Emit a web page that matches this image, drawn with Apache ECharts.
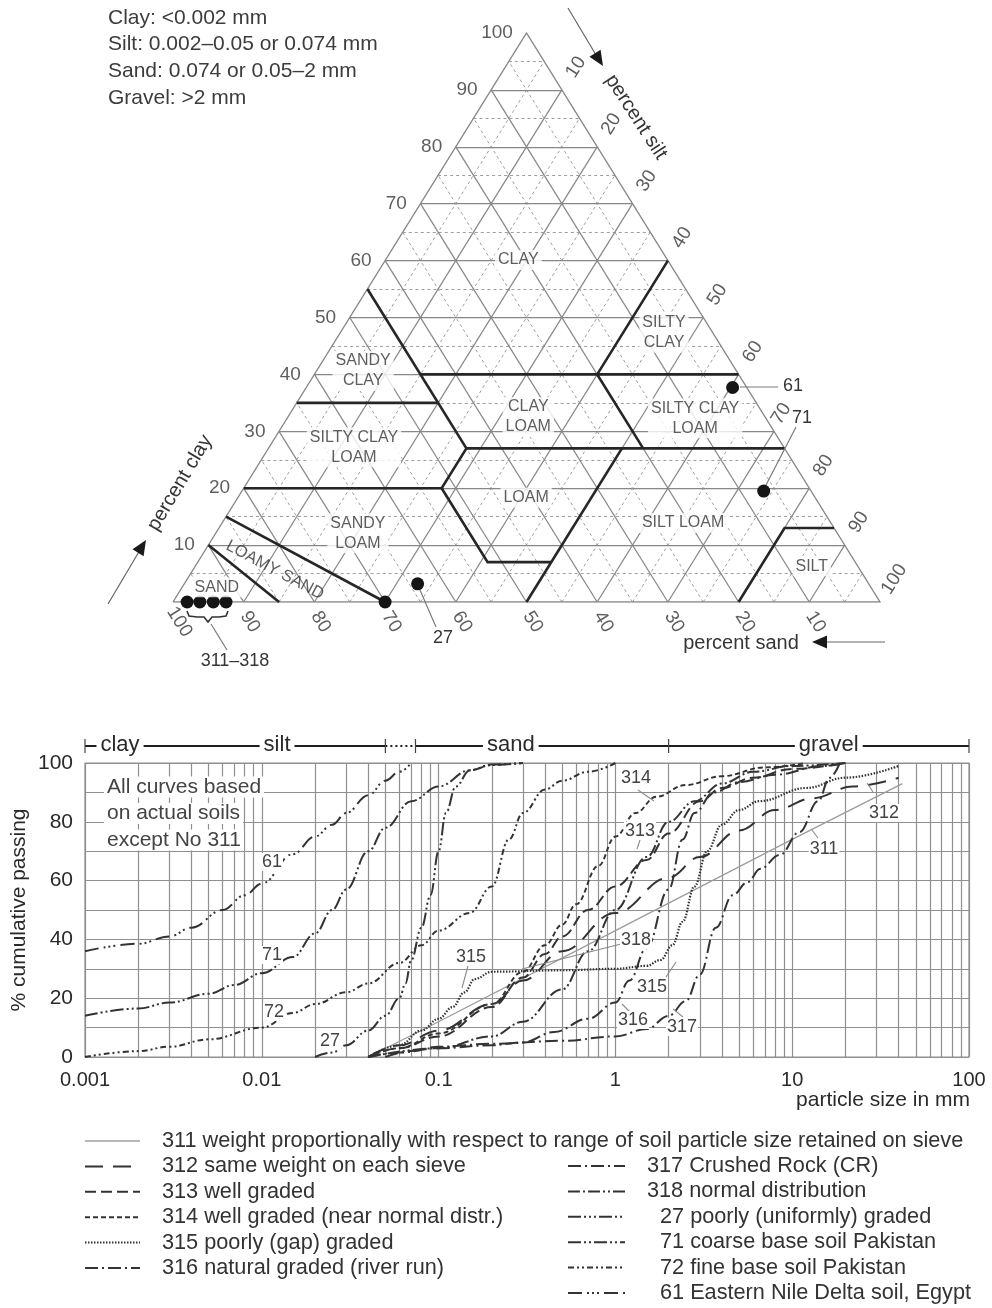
<!DOCTYPE html>
<html><head><meta charset="utf-8">
<script src="https://cdn.jsdelivr.net/npm/echarts@6/dist/echarts.min.js"></script>
<style>html,body{margin:0;padding:0;background:#fff}#c{width:992px;height:1308px}</style>
</head><body><div id="c"></div>
<script>
// ================= DATA =================
const headerLines = ['Clay: <0.002 mm', 'Silt: 0.002–0.05 or 0.074 mm', 'Sand: 0.074 or 0.05–2 mm', 'Gravel: >2 mm'];
const ternaryTicks = [10, 20, 30, 40, 50, 60, 70, 80, 90, 100];
// texture-class boundaries, points as [clay %, silt %]
const classBoundaries = [
  [[55, 0], [27, 28]],
  [[40, 15], [40, 60]],
  [[35, 0], [35, 20]],
  [[60, 40], [40, 40], [27, 53]],
  [[27, 28], [27, 73]],
  [[20, 0], [20, 28], [27, 28]],
  [[20, 28], [7, 41], [7, 50]],
  [[27, 50], [0, 50]],
  [[0, 80], [13, 80], [13, 87]],
  [[15, 0], [0, 30]],
  [[10, 0], [0, 15]]
];
const classNames = ['CLAY', 'SILTY\nCLAY', 'SANDY\nCLAY', 'CLAY\nLOAM', 'SILTY CLAY\nLOAM', 'SILTY CLAY\nLOAM', 'LOAM', 'SANDY\nLOAM', 'SILT LOAM', 'LOAMY SAND', 'SAND', 'SILT'];
const classClay = [60.1, 47.3, 40.6, 32.5, 32.3, 27.2, 18.3, 12.1, 13.9, 5.6, 2.6, 6.3];
const classSilt = [18.8, 45.8, 6.6, 34.0, 57.7, 12.0, 40.8, 20.1, 65.2, 11.6, 4.9, 87.2];
// soil samples plotted in the triangle [clay %, silt %]
const sampleNames = ['311', '312', '313', '314', '72', '27', '61', '71'];
const sampleClay = [0, 0, 0, 0, 0, 3.2, 37.7, 19.5];
const sampleSilt = [2, 3.8, 5.7, 7.5, 30, 33, 60.3, 73.8];

// grading curves: [particle size mm, % cumulative passing]
const c311 = [[0.04, 0], [0.1, 12], [1, 43], [10, 74], [42, 93]];
const c312 = [[0.04, 0], [0.06, 4], [0.1, 9], [0.2, 18], [0.3, 26], [0.5, 36], [1, 49], [2, 61], [3, 68], [5, 77], [8, 84], [13, 88], [22, 92], [40, 95]];
const c313 = [[0.04, 0], [0.06, 3], [0.1, 7], [0.2, 17], [0.3, 27], [0.4, 35], [0.5, 41], [0.7, 50], [1, 58], [1.5, 67], [2, 76], [3, 87], [4, 91.5], [6, 95], [10, 98], [20, 100]];
const c314 = [[0.04, 0], [0.06, 3], [0.1, 8], [0.2, 18], [0.3, 29], [0.4, 38], [0.5, 45], [0.6, 52], [0.8, 65], [1, 75], [1.3, 83], [1.7, 88.5], [2.5, 92.5], [4, 95.5], [7, 98.5], [12, 100]];
const c315 = [[0.04, 0], [0.06, 4], [0.08, 9], [0.1, 13], [0.12, 17], [0.14, 22], [0.16, 26.5], [0.2, 29], [0.5, 29.5], [1, 30], [1.5, 31], [1.8, 33], [2.1, 38], [2.4, 46], [2.8, 58], [3.3, 70], [4, 79], [5, 84], [6.5, 87], [12, 91.5], [20, 95], [40, 99]];
const c316 = [[0.04, 0], [0.06, 1.5], [0.1, 3], [0.2, 4], [0.3, 5], [0.45, 8.5], [0.7, 13], [1.0, 18.5], [1.2, 26], [1.5, 37], [2, 57], [2.4, 74], [2.8, 83], [3.6, 90], [5, 93.5], [8, 96], [15, 99], [20, 100]];
const c317 = [[0.05, 0], [0.07, 2], [0.1, 3.5], [0.2, 4.5], [0.5, 5.5], [1, 7], [1.5, 9.5], [2, 14], [2.5, 19], [3, 28], [3.7, 44], [4.6, 55], [5.6, 59.5], [6.6, 64], [8.5, 68.7], [11, 76.5], [14, 87], [16.3, 95], [18.6, 100]];
const c318 = [[0.04, 0], [0.1, 3], [0.2, 7], [0.3, 12], [0.5, 23], [0.7, 36], [1, 50], [1.5, 68], [2, 80], [2.8, 87], [4, 93], [6, 97], [10, 99], [20, 100]];
const c27 = [[0.02, 0], [0.025, 1.5], [0.03, 4], [0.04, 9], [0.05, 14], [0.06, 20], [0.065, 25], [0.07, 33], [0.08, 44], [0.09, 55], [0.1, 70], [0.11, 83], [0.125, 92], [0.15, 97.5], [0.2, 99.5], [0.3, 100]];
const c71 = [[0.001, 14], [0.002, 16.5], [0.003, 18.5], [0.005, 21.5], [0.007, 24.5], [0.01, 28.5], [0.015, 34], [0.02, 42], [0.025, 50], [0.03, 57], [0.04, 70], [0.05, 78], [0.07, 87], [0.1, 92], [0.15, 97.5], [0.2, 99.3], [0.3, 100]];
const c72 = [[0.001, 0], [0.002, 2], [0.003, 3.5], [0.005, 6], [0.01, 10], [0.015, 15], [0.02, 18], [0.03, 22], [0.04, 25], [0.06, 32], [0.08, 38], [0.1, 43], [0.15, 49], [0.2, 58], [0.25, 74], [0.3, 83], [0.4, 91], [0.5, 94], [0.7, 97], [1.0, 100]];
const c61 = [[0.001, 36], [0.002, 38.5], [0.003, 41], [0.004, 44], [0.006, 50], [0.008, 55], [0.01, 59], [0.015, 69], [0.02, 75], [0.025, 79], [0.03, 83], [0.04, 89], [0.05, 94], [0.06, 97], [0.07, 100]];

const curveIds = ['311', '312', '313', '314', '315', '316', '317', '318', '27', '71', '72', '61'];
const curveData = [c311, c312, c313, c314, c315, c316, c317, c318, c27, c71, c72, c61];
const legendTexts = {
  '311': '311 weight proportionally with respect to range of soil particle size retained on sieve',
  '312': '312 same weight on each sieve',
  '313': '313 well graded',
  '314': '314 well graded (near normal distr.)',
  '315': '315 poorly (gap) graded',
  '316': '316 natural graded (river run)',
  '317': '317 Crushed Rock (CR)',
  '318': '318 normal distribution',
  '27': '27 poorly (uniformly) graded',
  '71': '71 coarse base soil Pakistan',
  '72': '72 fine base soil Pakistan',
  '61': '61 Eastern Nile Delta soil, Egypt'
};
const xTickLabels = ['0.001', '0.01', '0.1', '1', '10', '100'];
const bandBounds = [0.001, 0.002, 0.05, 0.074, 2, 100];
const bandNames = ['clay', 'silt', 'sand', 'gravel'];
const bandNamePos = [0.00135, 0.0122, 0.256, 16.1];
const noteLines = ['All curves based', 'on actual soils', 'except No 311'];

// ================= STYLE =================
const FONT = '"Liberation Sans", Arial, Helvetica, sans-serif';
const TXT = '#363636';
const CURVE = '#333333';
const curveStyle = {
  '311': { color: '#9c9c9c', width: 1.3, type: 'solid' },
  '312': { color: CURVE, width: 2, type: [18, 10] },
  '313': { color: CURVE, width: 2, type: [11, 5] },
  '314': { color: CURVE, width: 1.9, type: [5, 3] },
  '315': { color: CURVE, width: 2.2, type: [1.5, 1.5] },
  '316': { color: CURVE, width: 2, type: [13, 4, 2, 4] },
  '317': { color: CURVE, width: 2, type: [13, 4, 2, 4] },
  '318': { color: CURVE, width: 2, type: [12, 3, 2, 3, 12, 3, 2, 3, 2, 3] },
  '27': { color: CURVE, width: 2, type: [13, 3, 2, 3, 2, 3, 2, 3] },
  '71': { color: CURVE, width: 2, type: [13, 3, 2, 3, 2, 3] },
  '72': { color: CURVE, width: 2, type: [6, 3, 2, 3, 2, 3] },
  '61': { color: CURVE, width: 2, type: [14, 5, 2, 3, 2, 3, 2, 5] }
};

// ternary -> cartesian (x = silt + clay/2, y = clay)
const T = (clay, silt) => [silt + clay / 2, clay];

const majorSeg = [], minorSeg = [];
for (let k = 5; k < 100; k += 5) {
  const arr = (k % 10 === 0) ? majorSeg : minorSeg;
  arr.push([T(k, 0), T(k, 100 - k)]);          // clay = k
  arr.push([T(0, k), T(100 - k, k)]);          // silt = k
  arr.push([T(0, 100 - k), T(100 - k, 0)]);    // sand = k
}

const tickItems = [];
ternaryTicks.forEach(k => {
  tickItems.push({ value: T(k, -1), name: String(k), label: { position: 'left', distance: 6 } });
  const sOff = k === 70 ? [-8, -3] : [0, 0];
  tickItems.push({ value: T(100 - k + 4, k), name: String(k), label: { position: 'inside', rotate: 58, offset: sOff } });
  tickItems.push({ value: T(-3.5, 100 - k + 2.65), name: String(k), label: { position: 'inside', rotate: -58 } });
});

const classItems = classNames.map((n, i) => ({
  value: T(classClay[i], classSilt[i]), name: n,
  label: n === 'LOAMY SAND' ? { rotate: -28, backgroundColor: 'transparent', fontSize: 16.5 } : {}
}));

const vgrid = [];
for (let e = -3; e <= 1; e++) for (let m = 1; m <= 9; m++) vgrid.push(+(m * Math.pow(10, e)).toPrecision(3));
vgrid.push(100);

const series = [
  { type: 'lines', coordinateSystem: 'cartesian2d', xAxisIndex: 0, yAxisIndex: 0, silent: true, z: 1,
    lineStyle: { color: '#9e9e9e', width: 1, type: [3, 3], opacity: 1 },
    data: minorSeg.map(s => ({ coords: s })) },
  { type: 'lines', coordinateSystem: 'cartesian2d', xAxisIndex: 0, yAxisIndex: 0, silent: true, z: 2,
    lineStyle: { color: '#878787', width: 1.25, opacity: 1 },
    data: majorSeg.map(s => ({ coords: s })) },
  { type: 'lines', coordinateSystem: 'cartesian2d', xAxisIndex: 0, yAxisIndex: 0, silent: true, z: 2, polyline: true,
    lineStyle: { color: '#878787', width: 1.4, opacity: 1 },
    data: [{ coords: [T(0, 0), T(0, 100), T(100, 0), T(0, 0)] }] },
  { type: 'lines', coordinateSystem: 'cartesian2d', xAxisIndex: 0, yAxisIndex: 0, silent: true, z: 3, polyline: true,
    lineStyle: { color: '#262626', width: 2.6, opacity: 1 },
    data: classBoundaries.map(b => ({ coords: b.map(p => T(p[0], p[1])) })) },
  { type: 'scatter', xAxisIndex: 0, yAxisIndex: 0, silent: true, z: 5, clip: false, symbolSize: 13,
    itemStyle: { color: '#151515', opacity: 1 },
    data: sampleNames.map((n, i) => ({ value: T(sampleClay[i], sampleSilt[i]), name: n })) },
  { type: 'scatter', xAxisIndex: 0, yAxisIndex: 0, silent: true, z: 6, clip: false, symbolSize: 1,
    itemStyle: { color: 'rgba(0,0,0,0)' },
    label: { show: true, formatter: p => p.name, color: TXT, fontSize: 19, fontFamily: FONT },
    data: tickItems },
  { type: 'scatter', xAxisIndex: 0, yAxisIndex: 0, silent: true, z: 6, clip: false, symbolSize: 1,
    itemStyle: { color: 'rgba(0,0,0,0)' },
    label: { show: true, position: 'inside', formatter: p => p.name, color: TXT, fontSize: 16, lineHeight: 20,
      fontFamily: FONT, backgroundColor: '#fff', padding: [0, 3] },
    data: classItems },
  { type: 'lines', coordinateSystem: 'cartesian2d', xAxisIndex: 1, yAxisIndex: 1, silent: true, z: 1,
    lineStyle: { color: '#8f8f8f', width: 1.2, opacity: 1 },
    data: vgrid.map(v => ({ coords: [[v, 0], [v, 100]] })) }
];
curveIds.forEach((id, i) => {
  series.push({ type: 'line', name: id, xAxisIndex: 1, yAxisIndex: 1, z: id === '311' ? 3 : 4, silent: true,
    showSymbol: false, symbol: 'none', smooth: id === '311' ? false : 0.4, smoothMonotone: 'x',
    lineStyle: curveStyle[id], data: curveData[i] });
});

const chart = echarts.init(document.getElementById('c'), null, { renderer: 'canvas', width: 992, height: 1308 });
chart.setOption({
  animation: false,
  backgroundColor: '#fff',
  grid: [
    { left: 173, top: 33, width: 707, height: 569, show: false },
    { left: 85, top: 763, width: 884, height: 294, show: true, borderColor: '#8f8f8f', borderWidth: 1.2 }
  ],
  xAxis: [
    { gridIndex: 0, type: 'value', min: 0, max: 100, show: false },
    { gridIndex: 1, type: 'log', logBase: 10, min: 0.001, max: 100, splitNumber: 5,
      axisLine: { show: false }, axisTick: { show: false }, splitLine: { show: false },
      axisLabel: { formatter: v => xTickLabels[Math.round(Math.log10(v)) + 3], fontSize: 20, color: '#2a2a2a', margin: 13, fontFamily: FONT } }
  ],
  yAxis: [
    { gridIndex: 0, type: 'value', min: 0, max: 100, show: false },
    { gridIndex: 1, type: 'value', min: 0, max: 100, interval: 10,
      axisLine: { show: false }, axisTick: { show: false },
      splitLine: { show: true, lineStyle: { color: '#8f8f8f', width: 1.2 } },
      axisLabel: { formatter: v => (v % 20 === 0 ? String(v) : ''), fontSize: 21, color: '#2a2a2a', margin: 12, fontFamily: FONT } }
  ],
  series: series
});

// ================= ANNOTATIONS =================
const G = [];
const txt = (text, x, y, o = {}) => G.push(Object.assign({ type: 'text', x: x, y: y, silent: true, z: 50,
  style: Object.assign({ text: text, fontSize: 19, fontFamily: FONT, fill: TXT, align: 'center', verticalAlign: 'middle' }, o.style || {}) },
  o.rotation !== undefined ? { rotation: o.rotation } : {}));
const ln = (x1, y1, x2, y2, o = {}) => G.push({ type: 'line', silent: true, z: o.z || 40,
  shape: { x1: x1, y1: y1, x2: x2, y2: y2 },
  style: { stroke: o.stroke || '#7a7a7a', lineWidth: o.w || 1.2, lineDash: o.dash || null } });
const head = (tx, ty, dx, dy) => {
  const L = 15, W = 6.5, bx = tx - dx * L, by = ty - dy * L;
  G.push({ type: 'polygon', silent: true, z: 45, shape: { points: [[tx, ty], [bx - dy * W, by + dx * W], [bx + dy * W, by - dx * W]] }, style: { fill: '#1a1a1a' } });
};

// header
headerLines.forEach((s, i) => txt(s, 108, 18 + i * 26.7, { style: { align: 'left', fontSize: 21, fill: '#3c3c3c' } }));

// ternary axis titles & arrows
txt('percent clay', 180, 483, { rotation: 59 * Math.PI / 180, style: { fontSize: 20 } });
txt('percent silt', 636, 117, { rotation: -57 * Math.PI / 180, style: { fontSize: 20 } });
txt('percent sand', 741, 643, { style: { fontSize: 20 } });
ln(108, 604, 140, 550, { stroke: '#666' }); head(146, 540, 0.53, -0.85);
ln(568, 8, 596, 55, { stroke: '#666' }); head(603, 66, 0.53, 0.85);
ln(885, 642, 824, 642, { stroke: '#666' }); head(812, 642, -1, 0);

// sample leaders
G.push({ type: 'polyline', silent: true, z: 40, shape: { points: [[187, 611], [189, 616], [197, 617], [204, 617], [208, 622], [212, 617], [219, 617], [226, 616], [228, 611]] }, style: { stroke: '#333', lineWidth: 1.6, fill: null } });
ln(211, 624, 227, 650);
txt('311–318', 235, 661, { style: { fontSize: 18 } });
ln(420, 590, 436, 627);
txt('27', 443, 638, { style: { fontSize: 18 } });
ln(740, 387, 778, 387);
txt('61', 793, 386, { style: { fontSize: 18 } });
ln(766, 485, 796, 427);
txt('71', 802, 418, { style: { fontSize: 18 } });

// grading chart titles
txt('% cumulative passing', 19, 910, { rotation: Math.PI / 2, style: { fontSize: 21, fill: '#2a2a2a' } });
txt('particle size in mm', 970, 1100, { style: { fontSize: 21, align: 'right', fill: '#2a2a2a' } });
noteLines.forEach((s, i) => txt(s, 104, 787 + i * 26.5, { style: { align: 'left', fontSize: 21, fill: '#444', backgroundColor: '#fff', padding: [0, 3] } }));

// curve tags
const tags = [['61', 272, 862], ['71', 272, 955], ['72', 274, 1012], ['27', 330, 1041], ['315', 471, 957], ['314', 636, 778],
  ['313', 640, 831], ['318', 636, 940], ['315', 652, 987], ['316', 633, 1020], ['317', 682, 1027], ['312', 884, 813], ['311', 824, 849]];
tags.forEach(t => txt(t[0], t[1], t[2], { style: { fontSize: 18, fill: '#444', backgroundColor: '#fff', padding: [0, 1] } }));
[[468, 966, 462, 988], [638, 790, 654, 801], [640, 840, 637, 849], [621, 944, 522, 969], [666, 977, 676, 962],
 [622, 1004, 630, 1012], [673, 1009, 683, 1017], [867, 783, 873, 792], [812, 830, 818, 838]].forEach(l => ln(l[0], l[1], l[2], l[3], { stroke: '#8a8a8a', w: 1.1 }));

// classification band above grading chart
const px = v => chart.convertToPixel({ gridIndex: 1 }, [v, 50])[0];
const BY = 746;
for (let i = 0; i < bandBounds.length - 1; i++) {
  ln(px(bandBounds[i]), BY, px(bandBounds[i + 1]), BY, { stroke: '#1e1e1e', w: 2.2, dash: i === 2 ? [2, 3] : null, z: 41 });
}
bandBounds.forEach(b => ln(px(b), BY - 7, px(b), BY + 7, { stroke: '#444', w: 1.2, z: 41 }));
bandNames.forEach((n, i) => txt(n, px(bandNamePos[i]) + (i === 0 ? 12 : 0), BY - 1, { style: { fontSize: 22, fill: '#2a2a2a', backgroundColor: '#fff', padding: [0, 4] } }));

// legend
const legendLeft = ['311', '312', '313', '314', '315', '316'];
const legendRight = ['317', '318', '27', '71', '72', '61'];
legendLeft.forEach((id, i) => {
  const y = 1141 + i * 25.4, st = curveStyle[id];
  ln(85, y, 140, y, { stroke: id === '311' ? '#a0a0a0' : '#333', w: id === '311' ? 1.6 : 2, dash: st.type === 'solid' ? null : st.type });
  txt(legendTexts[id], 162, y, { style: { align: 'left', fontSize: 21.7, fill: '#333' } });
});
legendRight.forEach((id, i) => {
  const y = 1166 + i * 25.4, st = curveStyle[id];
  ln(568, y, 625, y, { stroke: '#333', w: 2, dash: st.type });
  txt(legendTexts[id], id.length === 3 ? 647 : 660, y, { style: { align: 'left', fontSize: 21.7, fill: '#333' } });
});

chart.setOption({ graphic: G });
</script></body></html>
